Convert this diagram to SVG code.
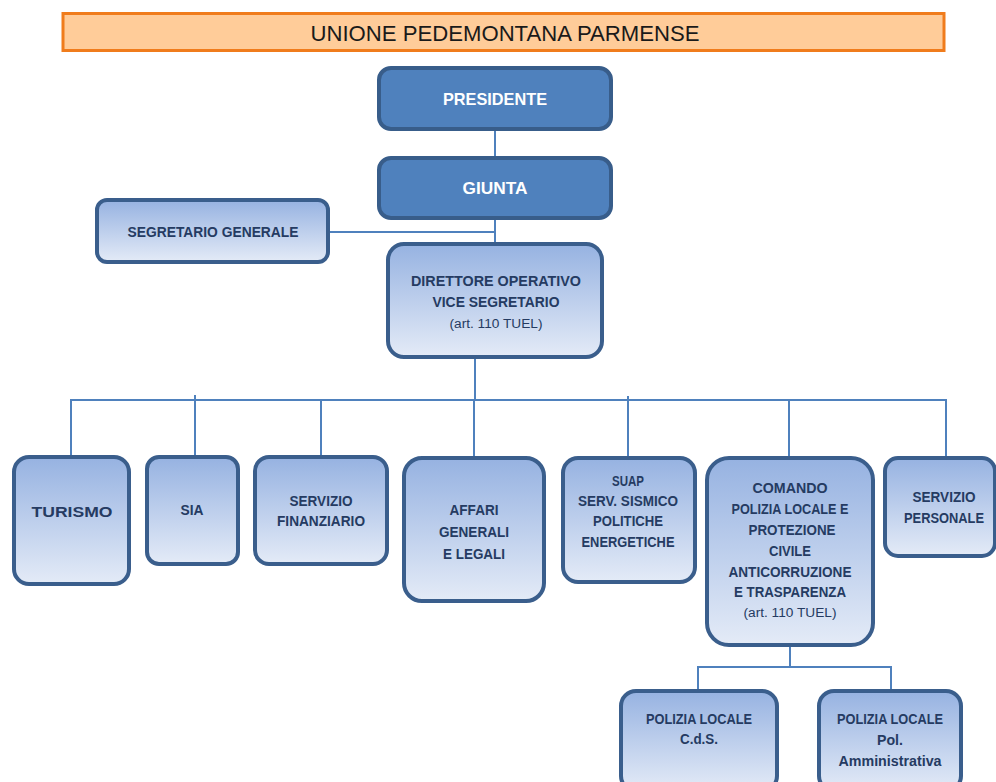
<svg xmlns="http://www.w3.org/2000/svg" width="996" height="782" viewBox="0 0 996 782">
<defs>
<linearGradient id="g" x1="0" y1="0" x2="0" y2="1">
<stop offset="0" stop-color="#96B2E1"/>
<stop offset="1" stop-color="#E4EBF7"/>
</linearGradient>
</defs>
<style>
.box{fill:url(#g);stroke:#3A5E8C;stroke-width:4}
.dark{fill:#4F81BD;stroke:#385D8A;stroke-width:4}
.t{font-family:"Liberation Sans",Arial,sans-serif;font-weight:bold;font-size:14.5px;fill:#253B62;text-anchor:middle}
.s{font-family:"Liberation Sans",Arial,sans-serif;font-size:12.5px;fill:#253B62;text-anchor:middle}
.w{font-family:"Liberation Sans",Arial,sans-serif;font-weight:bold;font-size:17px;fill:#FFFFFF;text-anchor:middle}
.c{fill:none;stroke:#4F81BD;stroke-width:2}
</style>
<rect width="996" height="782" fill="#FFFFFF"/>
<g id="title">
<rect x="63" y="13.5" width="881" height="37" fill="#FFCC99" stroke="#F07C1C" stroke-width="3"/>
<text x="505" y="41" font-family="Liberation Sans,Arial,sans-serif" font-size="22" fill="#1A1A1A" text-anchor="middle" textLength="389" lengthAdjust="spacingAndGlyphs">UNIONE PEDEMONTANA PARMENSE</text>
</g>
<g id="connectors">
<line class="c" x1="495" y1="130" x2="495" y2="157"/>
<line class="c" x1="495" y1="218" x2="495" y2="243"/>
<line class="c" x1="329" y1="232" x2="495" y2="232"/>
<line class="c" x1="475" y1="357" x2="475" y2="400"/>
<line class="c" x1="70" y1="400" x2="946" y2="400"/>
<line class="c" x1="71" y1="399" x2="71" y2="456"/>
<line class="c" x1="195" y1="395" x2="195" y2="456"/>
<line class="c" x1="321" y1="399" x2="321" y2="456"/>
<line class="c" x1="474" y1="399" x2="474" y2="457"/>
<line class="c" x1="628" y1="396" x2="628" y2="457"/>
<line class="c" x1="789" y1="399" x2="789" y2="457"/>
<line class="c" x1="946" y1="399" x2="946" y2="457"/>
<line class="c" x1="790" y1="646" x2="790" y2="667"/>
<polyline class="c" points="698,690 698,667 891,667 891,690"/>
</g>
<g id="presidente">
<rect class="dark" x="379" y="68" width="232" height="61" rx="12"/>
<text class="w" x="495" y="105" textLength="104" lengthAdjust="spacingAndGlyphs">PRESIDENTE</text>
</g>
<g id="giunta">
<rect class="dark" x="379" y="158" width="232" height="60" rx="12"/>
<text class="w" x="495" y="194" textLength="65" lengthAdjust="spacingAndGlyphs">GIUNTA</text>
</g>
<g id="segretario">
<rect class="box" x="97" y="200" width="231" height="62" rx="10"/>
<text class="t" x="213" y="237" textLength="171" lengthAdjust="spacingAndGlyphs">SEGRETARIO GENERALE</text>
</g>
<g id="direttore">
<rect class="box" x="388" y="244" width="214" height="113" rx="16"/>
<text class="t" x="496" y="286" textLength="170" lengthAdjust="spacingAndGlyphs">DIRETTORE OPERATIVO</text>
<text class="t" x="496" y="307" textLength="127" lengthAdjust="spacingAndGlyphs">VICE SEGRETARIO</text>
<text class="s" x="496" y="328" textLength="93" lengthAdjust="spacingAndGlyphs">(art. 110 TUEL)</text>
</g>
<g id="turismo">
<rect class="box" x="14" y="457" width="115" height="127" rx="15"/>
<text class="t" x="72" y="517" font-size="18" textLength="81" lengthAdjust="spacingAndGlyphs">TURISMO</text>
</g>
<g id="sia">
<rect class="box" x="147" y="457" width="91" height="107" rx="12"/>
<text class="t" x="192" y="515" textLength="23" lengthAdjust="spacingAndGlyphs">SIA</text>
</g>
<g id="finanziario">
<rect class="box" x="255" y="457" width="132" height="107" rx="14"/>
<text class="t" x="321" y="506" textLength="63" lengthAdjust="spacingAndGlyphs">SERVIZIO</text>
<text class="t" x="321" y="526" textLength="88" lengthAdjust="spacingAndGlyphs">FINANZIARIO</text>
</g>
<g id="affari">
<rect class="box" x="404" y="458" width="140" height="143" rx="18"/>
<text class="t" x="474" y="515" font-size="16" textLength="49" lengthAdjust="spacingAndGlyphs">AFFARI</text>
<text class="t" x="474" y="537" font-size="16" textLength="70" lengthAdjust="spacingAndGlyphs">GENERALI</text>
<text class="t" x="474" y="559" font-size="16" textLength="62" lengthAdjust="spacingAndGlyphs">E LEGALI</text>
</g>
<g id="suap">
<rect class="box" x="563" y="458" width="132" height="124" rx="15"/>
<text class="t" x="628" y="486" textLength="32" lengthAdjust="spacingAndGlyphs">SUAP</text>
<text class="t" x="628" y="506" textLength="100" lengthAdjust="spacingAndGlyphs">SERV. SISMICO</text>
<text class="t" x="628" y="526" textLength="70" lengthAdjust="spacingAndGlyphs">POLITICHE</text>
<text class="t" x="628" y="547" textLength="93" lengthAdjust="spacingAndGlyphs">ENERGETICHE</text>
</g>
<g id="comando">
<rect class="box" x="707" y="458" width="166" height="187" rx="22"/>
<text class="t" x="790" y="493" textLength="75" lengthAdjust="spacingAndGlyphs">COMANDO</text>
<text class="t" x="790" y="514" textLength="117" lengthAdjust="spacingAndGlyphs">POLIZIA LOCALE E</text>
<text class="t" x="792" y="535" textLength="87" lengthAdjust="spacingAndGlyphs">PROTEZIONE</text>
<text class="t" x="790" y="556" textLength="42" lengthAdjust="spacingAndGlyphs">CIVILE</text>
<text class="t" x="790" y="577" textLength="123" lengthAdjust="spacingAndGlyphs">ANTICORRUZIONE</text>
<text class="t" x="790" y="597" textLength="112" lengthAdjust="spacingAndGlyphs">E TRASPARENZA</text>
<text class="s" x="790" y="617" textLength="93" lengthAdjust="spacingAndGlyphs">(art. 110 TUEL)</text>
</g>
<g id="personale">
<rect class="box" x="885" y="458" width="110" height="98" rx="13"/>
<text class="t" x="944" y="502" textLength="63" lengthAdjust="spacingAndGlyphs">SERVIZIO</text>
<text class="t" x="944" y="523" textLength="80" lengthAdjust="spacingAndGlyphs">PERSONALE</text>
</g>
<g id="polizia-cds">
<rect class="box" x="621" y="691" width="156" height="100" rx="15"/>
<text class="t" x="699" y="724" textLength="106" lengthAdjust="spacingAndGlyphs">POLIZIA LOCALE</text>
<text class="t" x="699" y="744" textLength="38" lengthAdjust="spacingAndGlyphs">C.d.S.</text>
</g>
<g id="polizia-amm">
<rect class="box" x="819" y="691" width="142" height="100" rx="15"/>
<text class="t" x="890" y="724" textLength="106" lengthAdjust="spacingAndGlyphs">POLIZIA LOCALE</text>
<text class="t" x="890" y="745" textLength="26" lengthAdjust="spacingAndGlyphs">Pol.</text>
<text class="t" x="890" y="766" textLength="103" lengthAdjust="spacingAndGlyphs">Amministrativa</text>
</g>
</svg>
